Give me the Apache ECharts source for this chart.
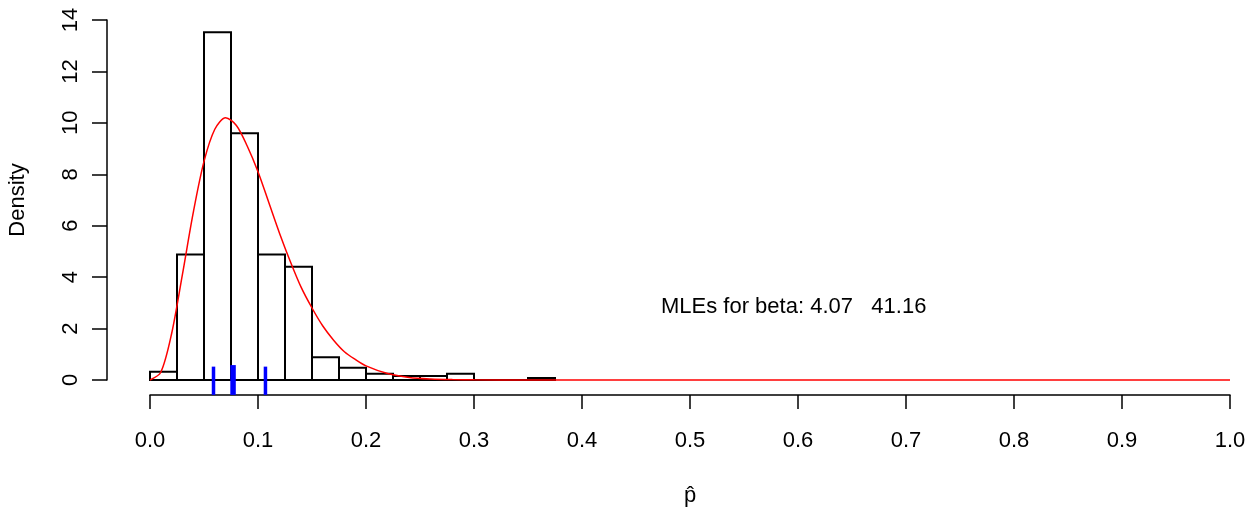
<!DOCTYPE html>
<html>
<head>
<meta charset="utf-8">
<script src="https://cdn.jsdelivr.net/npm/echarts@6/dist/echarts.min.js"></script>
<style>
html,body{margin:0;padding:0;background:#fff;}
#chart{width:1251px;height:516px;}
</style>
</head>
<body>
<div id="chart"></div>
<script>
// Histogram bins (left edges, right edges) and densities
var binLeft  = [0.000,0.025,0.050,0.075,0.100,0.125,0.150,0.175,0.200,0.225,0.250,0.275,0.300,0.325,0.350];
var binRight = [0.025,0.050,0.075,0.100,0.125,0.150,0.175,0.200,0.225,0.250,0.275,0.300,0.325,0.350,0.375];
var density  = [0.32,4.88,13.52,9.60,4.88,4.40,0.88,0.48,0.24,0.16,0.16,0.24,0.00,0.00,0.08];

// Fitted beta density curve
var curveX = [0.00,0.01,0.02,0.03,0.04,0.05,0.06,0.07,0.08,0.09,0.10,0.11,0.12,0.13,0.14,0.15,0.16,0.17,0.18,0.19,0.20,0.22,0.24,0.26,0.28,0.30,0.35,0.40,0.50,0.60,0.70,0.80,0.90,1.00];
var curveY = [0.00,0.30,1.80,4.10,6.50,8.50,9.75,10.20,9.90,9.10,8.10,6.90,5.70,4.60,3.60,2.80,2.10,1.55,1.10,0.80,0.55,0.25,0.10,0.04,0.015,0.005,0,0,0,0,0,0,0,0];

// Rug ticks (blue)
var rugX     = [0.0588,0.0769,0.1069];
var rugTop   = [0.52,0.58,0.52];
var rugWidth = [3.5,5.5,3.5];
var rugBelow = 0.58;   // how far (in density units) the rug reaches below zero

// Annotation
var annText = 'MLEs for beta: 4.07   41.16';
var annX = 0.596, annY = 2.84;

var FONT = 'Liberation Sans, Arial, sans-serif';
var FS = 22;

var histData = binLeft.map(function(l,i){return [l,binRight[i],density[i]];});
var curveData = curveX.map(function(x,i){return [x,curveY[i]];});
var rugData = rugX.map(function(x,i){return [x,rugTop[i],rugWidth[i]];});

var chart = echarts.init(document.getElementById('chart'), null, {renderer:'canvas'});
chart.setOption({
  animation:false,
  backgroundColor:'#fff',
  grid:[
    {left:150,right:21,top:20,bottom:136,containLabel:false,outerBoundsMode:'none'},
    {left:107,width:1,top:20,bottom:136,containLabel:false,outerBoundsMode:'none'}
  ],
  xAxis:[
    {
      gridIndex:0,type:'value',min:0,max:1,interval:0.1,
      offset:15,
      axisLine:{show:true,onZero:false,lineStyle:{color:'#000',width:1.5}},
      axisTick:{show:true,length:14,lineStyle:{color:'#000',width:1.5}},
      axisLabel:{margin:35,color:'#000',fontFamily:FONT,fontSize:FS,
        formatter:function(v){return v.toFixed(1);}},
      splitLine:{show:false},
      name:'p\u0302',nameLocation:'middle',nameGap:90,
      nameTextStyle:{color:'#000',fontFamily:FONT,fontSize:FS}
    },
    {gridIndex:1,type:'value',min:0,max:1,show:false}
  ],
  yAxis:[
    {gridIndex:0,type:'value',min:0,max:14,interval:2,show:false},
    {
      gridIndex:1,type:'value',min:0,max:14,interval:2,position:'left',
      axisLine:{show:true,onZero:false,lineStyle:{color:'#000',width:1.5}},
      axisTick:{show:true,length:15,lineStyle:{color:'#000',width:1.5}},
      axisLabel:{rotate:90,margin:25,color:'#000',fontFamily:FONT,fontSize:FS},
      splitLine:{show:false},
      name:'Density',nameLocation:'middle',nameRotate:90,nameGap:78,
      nameTextStyle:{color:'#000',fontFamily:FONT,fontSize:FS}
    }
  ],
  series:[
    {
      type:'custom',
      xAxisIndex:0,yAxisIndex:0,
      data:histData,
      clip:false,
      z:2,
      renderItem:function(params,api){
        var p0 = api.coord([api.value(0),api.value(2)]);
        var p1 = api.coord([api.value(1),0]);
        return {type:'rect',shape:{x:p0[0],y:p0[1],width:p1[0]-p0[0],height:p1[1]-p0[1]},
          style:{fill:'none',stroke:'#000',lineWidth:2}};
      }
    },
    {
      type:'line',
      xAxisIndex:0,yAxisIndex:0,
      data:curveData,
      smooth:0.3,
      showSymbol:false,
      clip:false,
      z:3,
      lineStyle:{color:'#ff0000',width:1.5},
      itemStyle:{color:'#ff0000'}
    },
    {
      type:'custom',
      xAxisIndex:0,yAxisIndex:0,
      data:rugData,
      clip:false,
      z:4,
      renderItem:function(params,api){
        var base = api.coord([api.value(0),0]);
        var b = api.coord([api.value(0),api.value(1)]);
        var below = api.size([0,rugBelow])[1];
        return {type:'line',shape:{x1:base[0],y1:base[1]+below,x2:b[0],y2:b[1]},
          style:{stroke:'#0000ff',lineWidth:api.value(2)}};
      }
    },
    {
      type:'custom',
      xAxisIndex:0,yAxisIndex:0,
      data:[[annX,annY]],
      clip:false,
      z:5,
      renderItem:function(params,api){
        var p = api.coord([api.value(0),api.value(1)]);
        return {type:'text',x:p[0],y:p[1],
          style:{text:annText,align:'center',verticalAlign:'middle',
            fill:'#000',font:FS+'px '+FONT}};
      }
    }
  ]
});
</script>
</body>
</html>
